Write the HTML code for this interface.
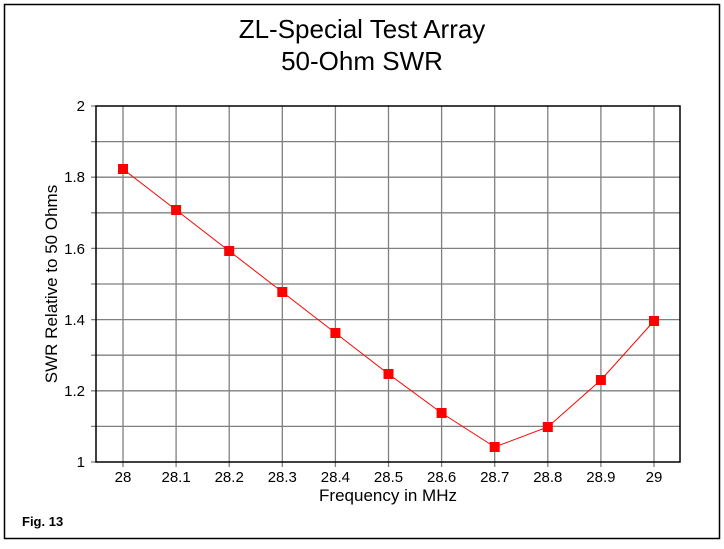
<!DOCTYPE html><html><head><style>body{margin:0;background:#fff}</style></head><body>
<svg width="724" height="544" xmlns="http://www.w3.org/2000/svg" font-family="Liberation Sans, Arial, sans-serif">
<rect x="0" y="0" width="724" height="544" fill="#fff"/>
<rect x="4.5" y="4.5" width="715" height="534" fill="none" stroke="#000" stroke-width="1.5"/>
<text x="362" y="38" font-size="26" text-anchor="middle">ZL-Special Test Array</text>
<text x="362" y="70" font-size="26" text-anchor="middle">50-Ohm SWR</text>
<g stroke="#808080" stroke-width="1.3">
<line x1="91" y1="141.6" x2="680" y2="141.6"/><line x1="91" y1="177.2" x2="680" y2="177.2"/><line x1="91" y1="212.8" x2="680" y2="212.8"/><line x1="91" y1="248.4" x2="680" y2="248.4"/><line x1="91" y1="284" x2="680" y2="284"/><line x1="91" y1="319.6" x2="680" y2="319.6"/><line x1="91" y1="355.2" x2="680" y2="355.2"/><line x1="91" y1="390.8" x2="680" y2="390.8"/><line x1="91" y1="426.4" x2="680" y2="426.4"/><line x1="91" y1="462" x2="96" y2="462"/><line x1="91" y1="106" x2="96" y2="106"/>
<line x1="123" y1="106" x2="123" y2="467"/><line x1="176.1" y1="106" x2="176.1" y2="467"/><line x1="229.2" y1="106" x2="229.2" y2="467"/><line x1="282.3" y1="106" x2="282.3" y2="467"/><line x1="335.4" y1="106" x2="335.4" y2="467"/><line x1="388.5" y1="106" x2="388.5" y2="467"/><line x1="441.6" y1="106" x2="441.6" y2="467"/><line x1="494.7" y1="106" x2="494.7" y2="467"/><line x1="547.8" y1="106" x2="547.8" y2="467"/><line x1="600.9" y1="106" x2="600.9" y2="467"/><line x1="654" y1="106" x2="654" y2="467"/>
</g>
<rect x="96" y="106" width="584" height="356" fill="none" stroke="#000" stroke-width="1.5"/>
<g font-size="15" text-anchor="end">
<text x="85" y="111">2</text><text x="85" y="182">1.8</text><text x="85" y="254">1.6</text><text x="85" y="325">1.4</text><text x="85" y="396">1.2</text><text x="85" y="467">1</text>
</g>
<g font-size="15" text-anchor="middle">
<text x="123" y="482">28</text><text x="176.1" y="482">28.1</text><text x="229.2" y="482">28.2</text><text x="282.3" y="482">28.3</text><text x="335.4" y="482">28.4</text><text x="388.5" y="482">28.5</text><text x="441.6" y="482">28.6</text><text x="494.7" y="482">28.7</text><text x="547.8" y="482">28.8</text><text x="600.9" y="482">28.9</text><text x="654" y="482">29</text>
</g>
<text x="388" y="501" font-size="17" text-anchor="middle">Frequency in MHz</text>
<text transform="translate(57,284) rotate(-90)" font-size="17" text-anchor="middle">SWR Relative to 50 Ohms</text>
<text x="22" y="526" font-size="13" font-weight="bold">Fig. 13</text>
<polyline fill="none" stroke="#f00" stroke-width="1" points="123,169 176.1,210 229.2,251 282.3,292 335.4,333 388.5,374 441.6,413 494.7,447 547.8,427 600.9,380 654,321"/>
<g fill="#f00">
<rect x="118" y="164" width="10" height="10"/><rect x="171.1" y="205" width="10" height="10"/><rect x="224.2" y="246" width="10" height="10"/><rect x="277.3" y="287" width="10" height="10"/><rect x="330.4" y="328" width="10" height="10"/><rect x="383.5" y="369" width="10" height="10"/><rect x="436.6" y="408" width="10" height="10"/><rect x="489.7" y="442" width="10" height="10"/><rect x="542.8" y="422" width="10" height="10"/><rect x="595.9" y="375" width="10" height="10"/><rect x="649" y="316" width="10" height="10"/>
</g>
</svg>
</body></html>
